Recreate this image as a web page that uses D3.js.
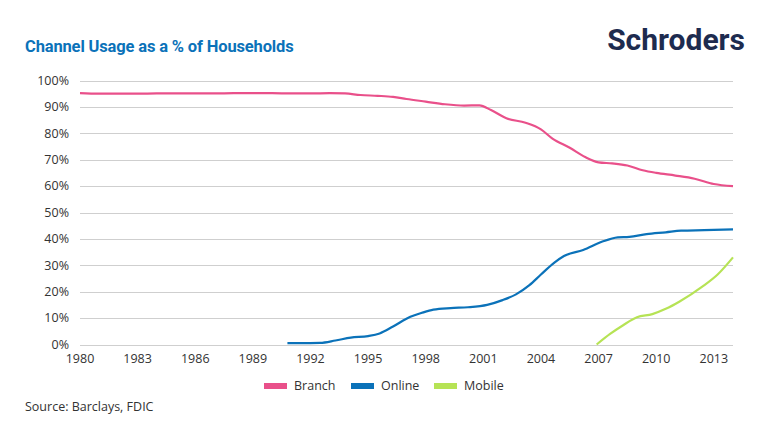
<!DOCTYPE html>
<html>
<head>
<meta charset="utf-8">
<script src="https://cdn.jsdelivr.net/npm/d3@7"></script>
<style>
  body { margin: 0; background: #fff; }
  svg { display: block; font-family: "Open Sans", "Noto Sans", sans-serif; }
</style>
</head>
<body>
<div id="chart"></div>
<script>
// data
var branchYears = [1980, 1981, 1982, 1983, 1984, 1985, 1986, 1987, 1988, 1989, 1990, 1991, 1992, 1993, 1993.8, 1994.6, 1995.5, 1996.3, 1997, 1998, 1999, 2000, 2000.8, 2001.4, 2002.2, 2003.2, 2004, 2004.6, 2005.5, 2006.3, 2007, 2007.7, 2008.5, 2009.3, 2010, 2011, 2012, 2013, 2014];
var branchValues = [95.2, 95.0, 95.0, 95.0, 95.1, 95.1, 95.1, 95.1, 95.2, 95.2, 95.2, 95.1, 95.1, 95.2, 95.1, 94.5, 94.2, 93.8, 93.0, 92.0, 91.0, 90.5, 90.6, 88.8, 85.7, 84.0, 81.5, 78.0, 74.5, 71.0, 69.0, 68.6, 67.8, 66.0, 65.0, 64.0, 62.8, 60.8, 60.0];

var onlineYears = [1990.8, 1991.5, 1992.5, 1993.3, 1994.1, 1995, 1995.6, 1996.3, 1997.2, 1997.8, 1998.4, 1999.3, 2000.2, 2001.2, 2002, 2002.7, 2003.4, 2004, 2004.7, 2005.2, 2006.2, 2007.2, 2008, 2008.6, 2009.5, 2010.5, 2011.3, 2012.5, 2014];
var onlineValues = [0.5, 0.5, 0.6, 1.5, 2.6, 3.2, 4.2, 6.8, 10.5, 12.0, 13.2, 13.8, 14.1, 15.0, 16.8, 19.0, 22.5, 26.5, 31.0, 33.5, 35.8, 39.0, 40.6, 40.8, 41.8, 42.5, 43.1, 43.3, 43.6];

var mobileYears = [2006.9, 2007.6, 2008.3, 2009, 2009.8, 2010.5, 2011.2, 2012.4, 2013.2, 2014];
var mobileValues = [0, 4.0, 7.4, 10.3, 11.5, 13.5, 16.2, 21.9, 26.5, 33.0];

var seriesNames = ["Branch", "Online", "Mobile"];
var seriesColors = ["#e9508a", "#0b72b9", "#b6e355"];
var xTicks = [1980, 1983, 1986, 1989, 1992, 1995, 1998, 2001, 2004, 2007, 2010, 2013];
var yTicks = [0, 10, 20, 30, 40, 50, 60, 70, 80, 90, 100];

var width = 770, height = 443;
var margin = {left: 80, right: 37, top: 80.5, bottom: 98.5};

var svg = d3.select("#chart").append("svg")
  .attr("width", width)
  .attr("height", height);

var x = d3.scaleLinear().domain([1980, 2014]).range([margin.left, width - margin.right]);
var y = d3.scaleLinear().domain([0, 100]).range([height - margin.bottom, margin.top]);

// title + logo
svg.append("text")
  .attr("x", 25).attr("y", 52)
  .style("font-family", "Roboto, sans-serif")
  .style("font-weight", "bold")
  .style("font-size", "16.5px")
  .style("letter-spacing", "-0.15px")
  .style("fill", "#0b72b9")
  .text("Channel Usage as a % of Households");

svg.append("text")
  .attr("x", 745).attr("y", 50)
  .attr("text-anchor", "end")
  .style("font-family", "Roboto, sans-serif")
  .style("font-weight", "bold")
  .style("font-size", "30px")
  .style("fill", "#1d2b4f")
  .text("Schroders");

// gridlines
svg.append("g")
  .selectAll("line")
  .data(yTicks)
  .enter().append("line")
  .attr("x1", x(1980))
  .attr("x2", x(2014))
  .attr("y1", function(d) { return Math.round(y(d)) + 0.5; })
  .attr("y2", function(d) { return Math.round(y(d)) + 0.5; })
  .style("stroke", "#cfcfcf")
  .style("stroke-width", 1);

// y labels
svg.append("g")
  .selectAll("text")
  .data(yTicks)
  .enter().append("text")
  .attr("x", 69)
  .attr("y", function(d) { return y(d); })
  .attr("dy", "0.35em")
  .attr("text-anchor", "end")
  .style("font-size", "12.5px")
  .style("fill", "#333")
  .text(function(d) { return d + "%"; });

// x labels
svg.append("g")
  .selectAll("text")
  .data(xTicks)
  .enter().append("text")
  .attr("x", function(d) { return x(d); })
  .attr("y", 363)
  .attr("text-anchor", "middle")
  .style("font-size", "12.5px")
  .style("fill", "#333")
  .text(function(d) { return d; });

// lines
var line = d3.line()
  .x(function(d) { return x(d[0]); })
  .y(function(d) { return y(d[1]); })
  .curve(d3.curveMonotoneX);

var allYears = [branchYears, onlineYears, mobileYears];
var allValues = [branchValues, onlineValues, mobileValues];

for (var i = 0; i < 3; i++) {
  var pts = d3.zip(allYears[i], allValues[i]);
  svg.append("path")
    .datum(pts)
    .attr("d", line)
    .style("fill", "none")
    .style("stroke", seriesColors[i])
    .style("stroke-width", 2.2);
}

// legend
var legendX = [264, 351, 434];
var legend = svg.append("g")
  .selectAll("g")
  .data(seriesNames)
  .enter().append("g")
  .attr("transform", function(d, i) { return "translate(" + legendX[i] + ",386)"; });

legend.append("rect")
  .attr("x", 0).attr("y", -3)
  .attr("width", 23).attr("height", 6)
  .style("fill", function(d, i) { return seriesColors[i]; });

legend.append("text")
  .attr("x", 30)
  .attr("dy", "0.35em")
  .style("font-size", "12.5px")
  .style("fill", "#333")
  .text(function(d) { return d; });

// source
svg.append("text")
  .attr("x", 25).attr("y", 411)
  .style("font-size", "12.5px")
  .style("fill", "#333")
  .text("Source: Barclays, FDIC");
</script>
</body>
</html>
